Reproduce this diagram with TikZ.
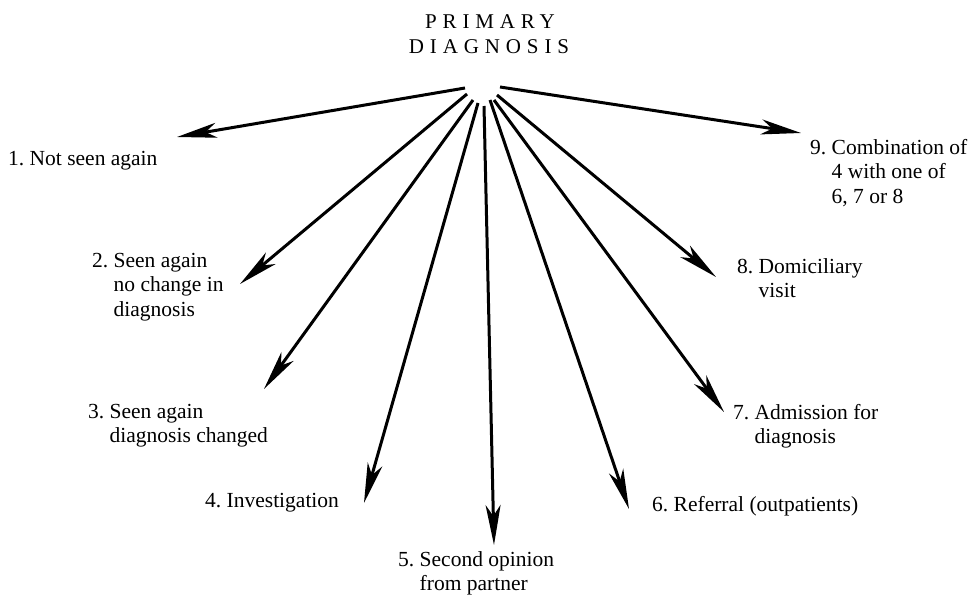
\documentclass[tikz,border=0pt]{standalone}
\usepackage{fontspec}
\setmainfont{Liberation Serif}
\newfontfamily\titlefont[LetterSpace=28]{Liberation Serif}
\usetikzlibrary{arrows.meta}

% numbered label with hanging lines
\newcommand{\numlab}[2]{\begin{tabular}[t]{@{}l@{\ }l@{}}#1 & #2\end{tabular}}

\begin{document}
\begin{tikzpicture}[x=1pt,y=-1pt,
		fan/.style={-{Stealth[length=40pt,width=15pt,inset=11pt]}, line width=3pt},
		lab/.style={anchor=base west, inner sep=0pt, font=\fontsize{21.5}{24.5}\selectfont},
		title/.style={inner sep=0pt, font=\titlefont\fontsize{21}{24}\selectfont}]
		
		\useasboundingbox (0,0) rectangle (980,602);
		
		% heading
		\node[title] (prim) at (490,22) {PRIMARY};
		\node[title] (diag) at (489,47) {DIAGNOSIS};
		
		% outcomes
		\node[lab] (l1) at (8,165) {\numlab{1.}{Not\ seen\ again}};
		\node[lab] (l2) at (92,267) {\numlab{2.}{Seen again\\ & no change in\\ & diagnosis}};
		\node[lab] (l3) at (88,418) {\numlab{3.}{Seen again\\ & diagnosis changed}};
		\node[lab] (l4) at (205,507) {\numlab{4.}{Investigation}};
		\node[lab] (l5) at (398,566) {\numlab{5.}{Second opinion\\ & from partner}};
		\node[lab] (l6) at (652,511) {\numlab{6.}{Referral (outpatients)}};
		\node[lab] (l7) at (733,419) {\numlab{7.}{Admission for\\ & diagnosis}};
		\node[lab] (l8) at (737,273) {\numlab{8.}{Domiciliary\\ & visit}};
		\node[lab] (l9) at (810,154) {\numlab{9.}{Combination of\\ & 4 with one of\\ & 6, 7 or 8}};
		
		% arrows out of the heading
		\foreach \i/\sx/\sy/\tx/\ty in {1/465/88/177/137, 2/467/94/240/284, 3/473/100/264/389,
			4/478/103/364/503, 5/484/106/494/545, 6/490/100/629/509,
			7/494/100/724/412, 8/497/95/716/277, 9/500/87/801/133}{
			\coordinate (s\i) at (\sx,\sy);
			\coordinate (t\i) at (\tx,\ty);
			\draw[fan] (s\i) -- (t\i);
		}
		
	\end{tikzpicture}
\end{document}
